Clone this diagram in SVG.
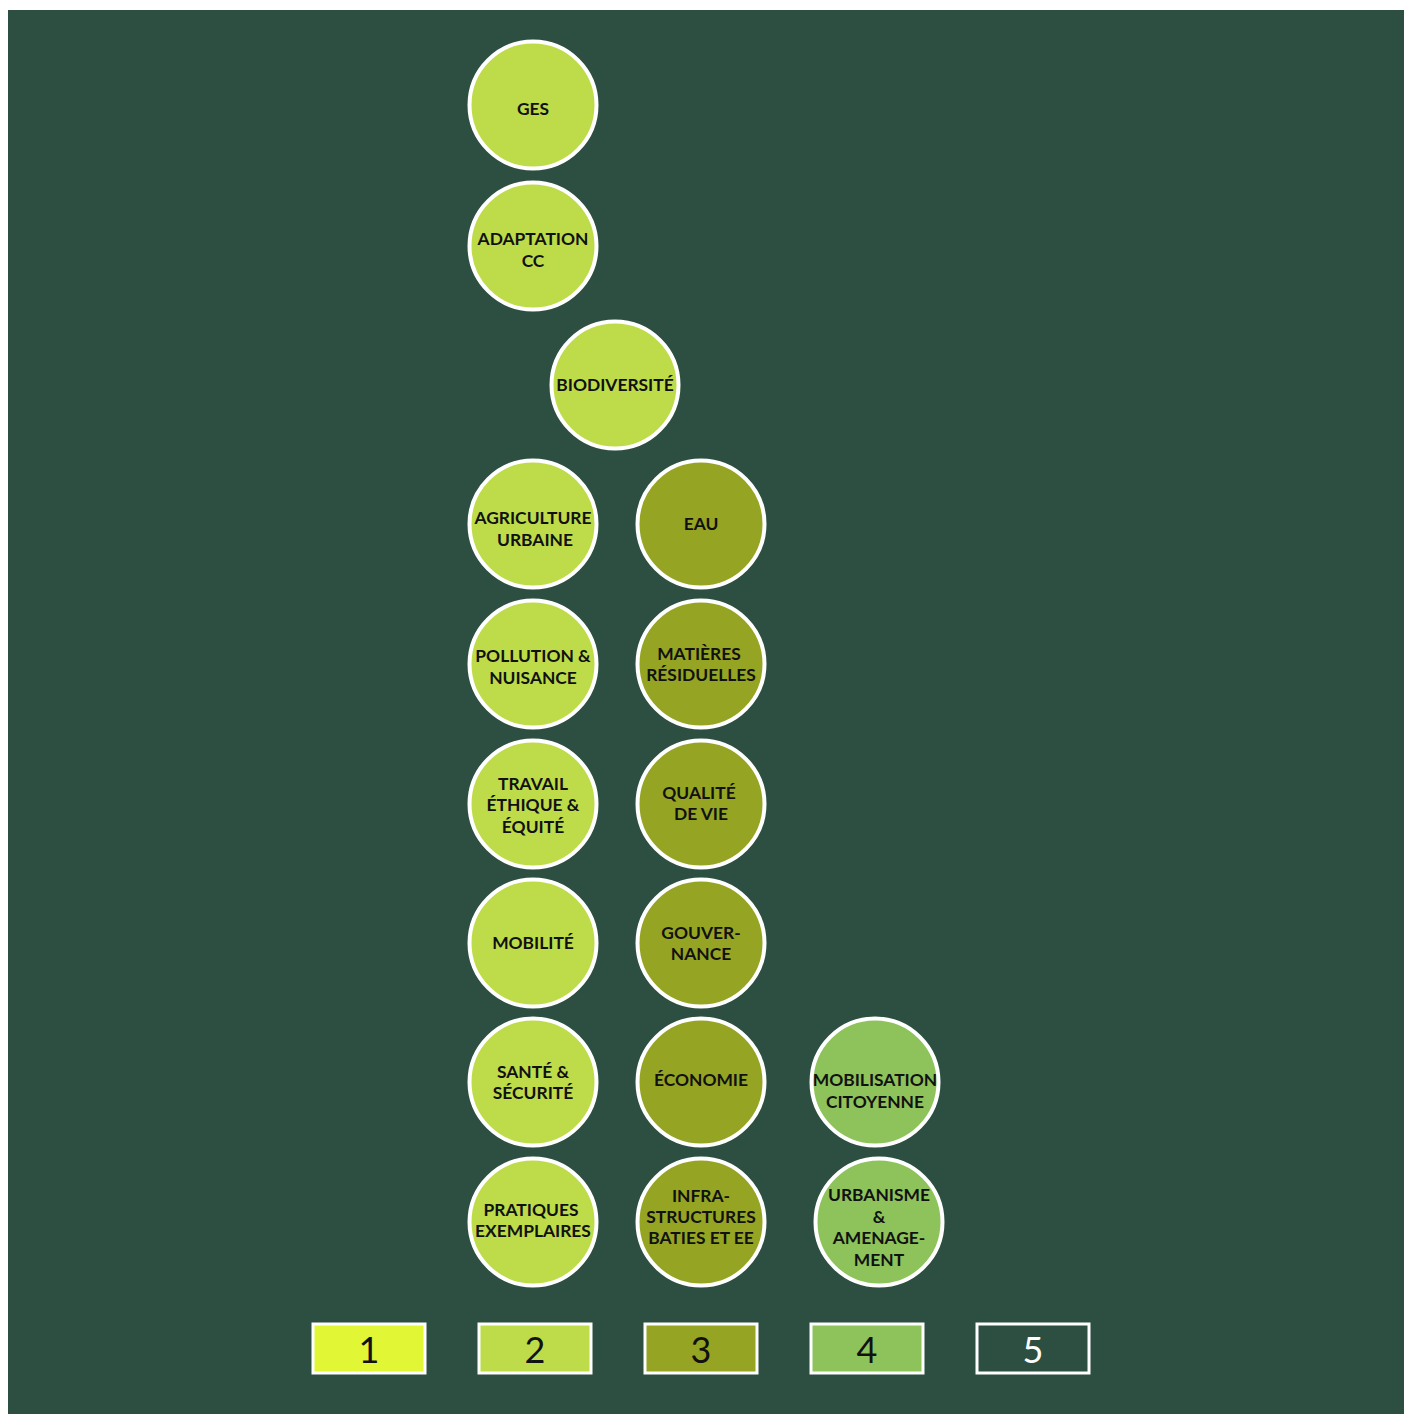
<svg xmlns="http://www.w3.org/2000/svg" width="1408" height="1414" viewBox="0 0 1408 1414">
<style>
.n2{fill:#bedc4a}.n3{fill:#95a523}.n4{fill:#8dc35a}
circle{stroke:#fff;stroke-width:4}
.t{font-family:Lato,"Noto Sans",sans-serif;font-weight:700;font-size:17.4px;fill:#111;text-anchor:middle}
.lg rect{stroke:#fff;stroke-width:3}
.lt{font-family:Lato,"Noto Sans",sans-serif;font-size:36px;text-anchor:middle;fill:#111}
</style>
<rect x="0" y="0" width="1408" height="1414" fill="#fff"/>
<rect x="8" y="10" width="1396" height="1404" fill="#2c4f41"/>
<g id="connectors"/>
<g id="ges"><circle class="n2" cx="533" cy="105" r="63.5"/><text class="t" x="533" y="115">GES</text></g>
<g id="adaptation"><circle class="n2" cx="533" cy="246" r="63.5"/><text class="t" x="533" y="245">ADAPTATION</text><text class="t" x="533" y="267">CC</text></g>
<g id="biodiversite"><circle class="n2" cx="615" cy="385" r="63.5"/><text class="t" x="615" y="391">BIODIVERSITÉ</text></g>
<g id="agriculture"><circle class="n2" cx="533" cy="524" r="63.5"/><text class="t" x="533" y="524">AGRICULTURE</text><text class="t" x="535" y="546">URBAINE</text></g>
<g id="pollution"><circle class="n2" cx="533" cy="664" r="63.5"/><text class="t" x="533" y="662">POLLUTION &amp;</text><text class="t" x="533" y="684">NUISANCE</text></g>
<g id="travail"><circle class="n2" cx="533" cy="804" r="63.5"/><text class="t" x="533" y="790">TRAVAIL</text><text class="t" x="533" y="811">ÉTHIQUE &amp;</text><text class="t" x="533" y="833">ÉQUITÉ</text></g>
<g id="mobilite"><circle class="n2" cx="533" cy="943" r="63.5"/><text class="t" x="533" y="949">MOBILITÉ</text></g>
<g id="sante"><circle class="n2" cx="533" cy="1082" r="63.5"/><text class="t" x="533" y="1078">SANTÉ &amp;</text><text class="t" x="533" y="1099">SÉCURITÉ</text></g>
<g id="pratiques"><circle class="n2" cx="533" cy="1222" r="63.5"/><text class="t" x="531" y="1216">PRATIQUES</text><text class="t" x="533" y="1237">EXEMPLAIRES</text></g>
<g id="eau"><circle class="n3" cx="701" cy="524" r="63.5"/><text class="t" x="701" y="530">EAU</text></g>
<g id="matieres"><circle class="n3" cx="701" cy="664" r="63.5"/><text class="t" x="699" y="660">MATIÈRES</text><text class="t" x="701" y="681">RÉSIDUELLES</text></g>
<g id="qualite"><circle class="n3" cx="701" cy="804" r="63.5"/><text class="t" x="699" y="799">QUALITÉ</text><text class="t" x="701" y="820">DE VIE</text></g>
<g id="gouvernance"><circle class="n3" cx="701" cy="943" r="63.5"/><text class="t" x="701" y="939">GOUVER-</text><text class="t" x="701" y="960">NANCE</text></g>
<g id="economie"><circle class="n3" cx="701" cy="1082" r="63.5"/><text class="t" x="701" y="1086">ÉCONOMIE</text></g>
<g id="infra"><circle class="n3" cx="701" cy="1222" r="63.5"/><text class="t" x="701" y="1202">INFRA-</text><text class="t" x="701" y="1223">STRUCTURES</text><text class="t" x="701" y="1244">BATIES ET EE</text></g>
<g id="mobilisation"><circle class="n4" cx="875" cy="1082" r="63.5"/><text class="t" x="875" y="1086">MOBILISATION</text><text class="t" x="875" y="1108">CITOYENNE</text></g>
<g id="urbanisme"><circle class="n4" cx="879" cy="1222" r="63.5"/><text class="t" x="879" y="1201">URBANISME</text><text class="t" x="879" y="1223">&amp;</text><text class="t" x="879" y="1244">AMENAGE-</text><text class="t" x="879" y="1266">MENT</text></g>
<g id="legend" class="lg">
<rect x="313" y="1324" width="112" height="49" fill="#e1f635"/><text class="lt" x="369" y="1363">1</text>
<rect x="479" y="1324" width="112" height="49" fill="#bedc4a"/><text class="lt" x="535" y="1363">2</text>
<rect x="645" y="1324" width="112" height="49" fill="#95a523"/><text class="lt" x="701" y="1363">3</text>
<rect x="811" y="1324" width="112" height="49" fill="#8dc35a"/><text class="lt" x="867" y="1363">4</text>
<rect x="977" y="1324" width="112" height="49" fill="none"/><text class="lt" x="1033" y="1363" style="fill:#fff">5</text>
</g>
</svg>
